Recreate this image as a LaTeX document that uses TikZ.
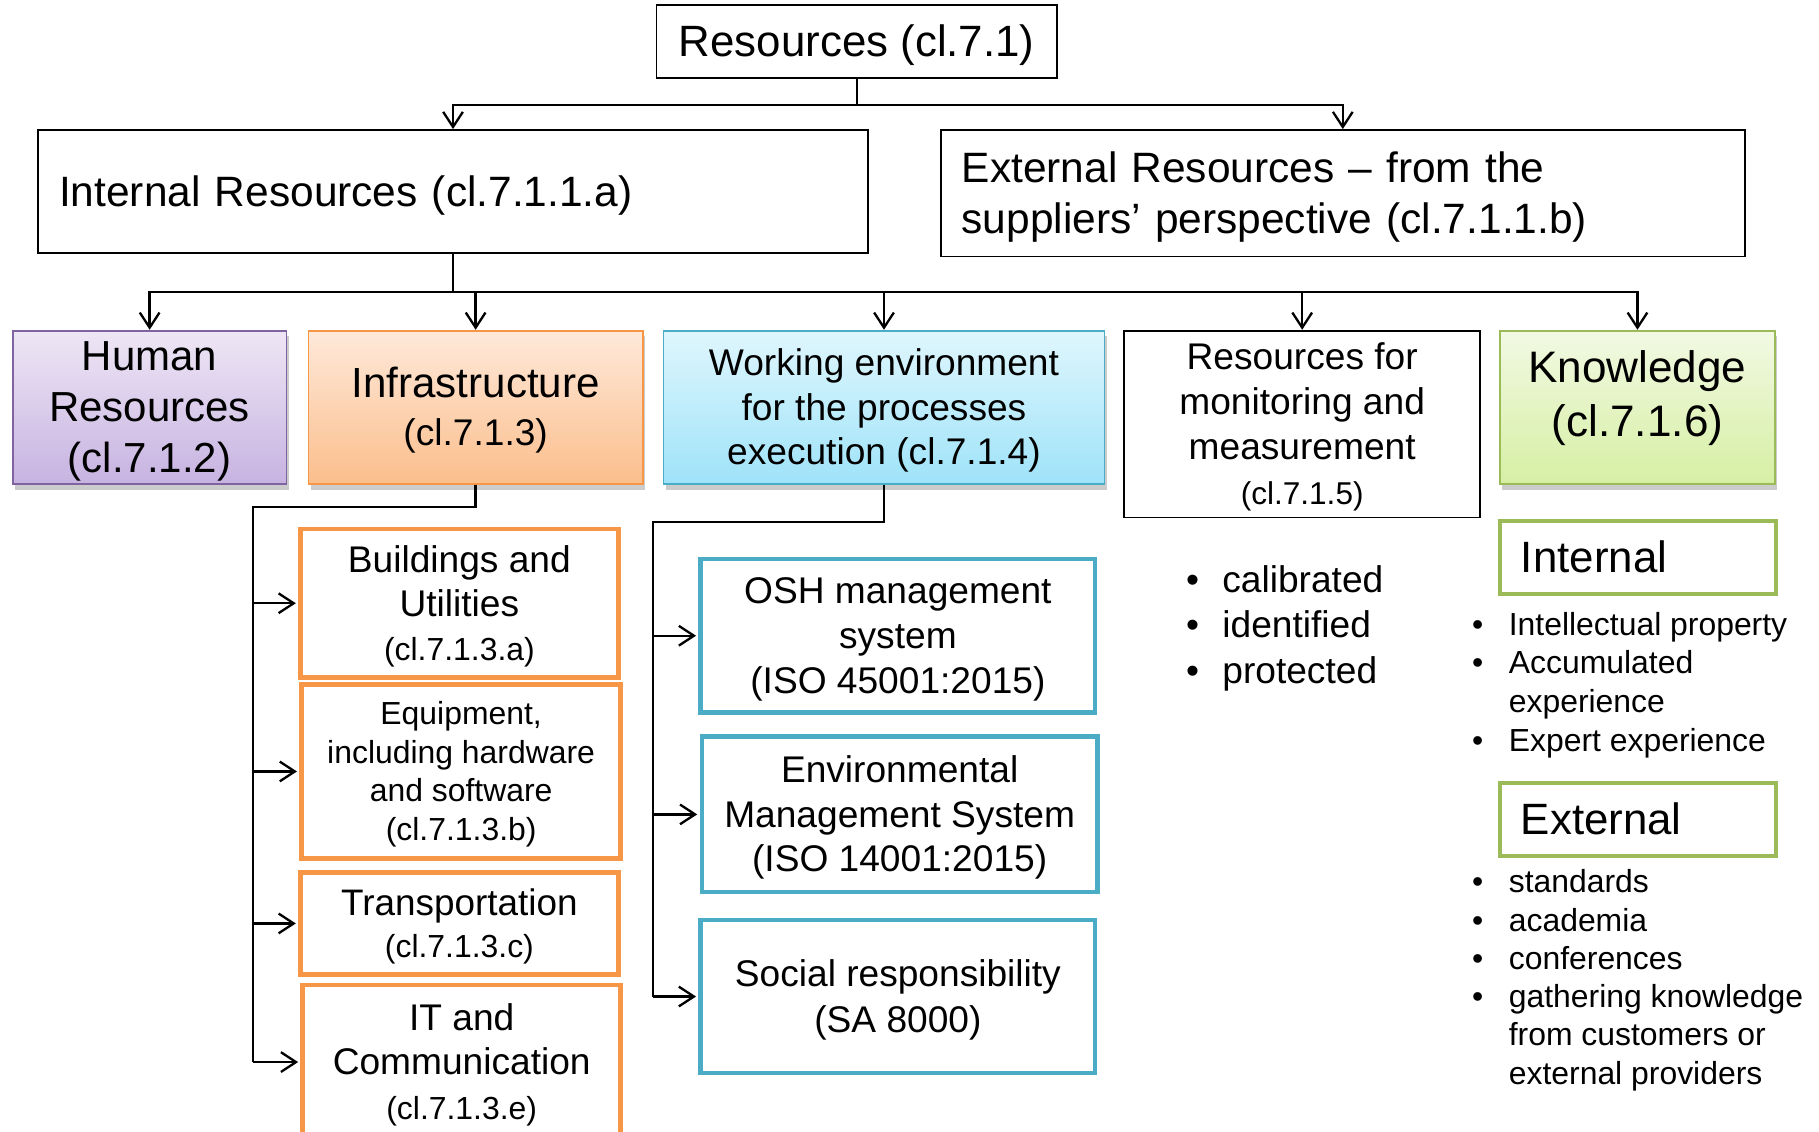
\documentclass[tikz,border=0pt]{standalone}
\usepackage{fontspec}
\setmainfont{Liberation Sans}
\usepackage{xcolor}
\usepackage{tikz}
\usetikzlibrary{positioning}
\usetikzlibrary{arrows.meta}
\usetikzlibrary{shadows}

\definecolor{hrline}{HTML}{8064A2}
\definecolor{hrtop}{HTML}{EEE6F5}
\definecolor{hrbot}{HTML}{C7B3E1}
\definecolor{infline}{HTML}{F79646}
\definecolor{inftop}{HTML}{FEE9DA}
\definecolor{infbot}{HTML}{FBBE8C}
\definecolor{wrkline}{HTML}{4BACC6}
\definecolor{wrktop}{HTML}{DFF6FD}
\definecolor{wrkbot}{HTML}{9FE3F9}
\definecolor{knwline}{HTML}{9BBB59}
\definecolor{knwtop}{HTML}{F2F9E3}
\definecolor{knwbot}{HTML}{D6EFA4}

\newcommand\fsz[2]{\fontsize{#1}{#2}\selectfont}
% strut with the ascent and descent of the font
\newcommand\pst{\rule[-.212em]{0pt}{1.117em}}

\tikzset{
  box/.style={draw,line width=1.5pt,align=center,inner sep=0pt,
    execute at begin node=\pst,execute at end node=\pst},
  colbox/.style={box,drop shadow={shadow xshift=2pt,shadow yshift=-5pt,fill=black!50,opacity=.4}},
  infsub/.style={box,draw=infline,line width=4pt,fill=white},
  wrksub/.style={box,draw=wrkline,line width=4pt,fill=white},
  knwsub/.style={box,draw=knwline,line width=4pt,fill=white,align=left,text width=202pt,
    minimum width=238pt,minimum height=63pt}
}

\begin{document}
\begin{tikzpicture}[x=1pt,y=-1pt,line width=2pt,>={Straight Barb[length=13pt,width=17pt]}]
\useasboundingbox (0,0) rectangle (1568,975);

% top levels
\node[box,minimum width=345pt,minimum height=63pt,font=\fsz{37.8}{44}] (res) at (738.5,35.5) {Resources (cl.7.1)};
\node[box,minimum width=715pt,minimum height=106pt,text width=679pt,align=left,font=\fsz{36.6}{44}] (int) at (390.5,165) {Internal Resources (cl.7.1.1.a)};
\node[box,minimum width=693pt,minimum height=109pt,text width=657pt,align=left,font=\fsz{36.6}{44}] (ext) at (1157.5,166.5) {External Resources -- from the\\suppliers’ perspective (cl.7.1.1.b)};

% internal resources
\node[colbox,draw=hrline,top color=hrtop,bottom color=hrbot,minimum width=236pt,minimum height=132pt,font=\fsz{36.2}{44}] (hr) at (129,351) {\pst Human\\Resources\\(cl.7.1.2)\pst};
\node[colbox,draw=infline,top color=inftop,bottom color=infbot,minimum width=288pt,minimum height=132pt,font=\fsz{36.3}{40}] (inf) at (410,351) {\pst Infrastructure\\{\fsz{32}{40}(cl.7.1.3)}\pst};
\node[colbox,draw=wrkline,top color=wrktop,bottom color=wrkbot,minimum width=380pt,minimum height=132pt,font=\fsz{32}{38.5}] (wrk) at (762,351) {\pst Working environment\\for the processes\\execution (cl.7.1.4)\pst};
\node[box,minimum width=307pt,minimum height=161pt,font=\fsz{32}{39}] (mon) at (1122.5,365.5) {\pst Resources for\\monitoring and\\measurement\\{\fsz{27.2}{36}(cl.7.1.5)\pst}};
\node[colbox,draw=knwline,top color=knwtop,bottom color=knwbot,minimum width=237pt,minimum height=132pt] (knw) at (1411.5,351) {};
\node[align=center,font=\fsz{38}{46},yshift=8pt] (knwtxt) at (knw) {Knowledge\\(cl.7.1.6)};

% infrastructure
\node[infsub,minimum width=274pt,minimum height=128pt,font=\fsz{32}{38}] (bld) at (396,520) {\pst Buildings and\\Utilities\\{\fsz{27.5}{35}(cl.7.1.3.a)\pst}};
\node[infsub,minimum width=275pt,minimum height=150pt,font=\fsz{27.5}{33.3}] (eqp) at (397.5,665) {\pst Equipment,\\including hardware\\and software\\(cl.7.1.3.b)\pst};
\node[infsub,minimum width=274pt,minimum height=88pt,font=\fsz{31.8}{36}] (trn) at (396,796) {\pst Transportation\\{\fsz{27.5}{36}(cl.7.1.3.c)\pst}};
\node[infsub,minimum width=274pt,minimum height=133pt,font=\fsz{32}{38}] (itc) at (398,915.5) {\pst IT and\\Communication\\{\fsz{27.5}{35}(cl.7.1.3.e)\pst}};

% working environment
\node[wrksub,minimum width=340pt,minimum height=132pt,font=\fsz{32}{38.5}] (osh) at (774,548) {\pst OSH management\\system\\(ISO 45001:2015)\pst};
\node[wrksub,minimum width=341pt,minimum height=134pt,font=\fsz{32}{38.5}] (env) at (775.5,702) {\pst Environmental\\Management System\\(ISO 14001:2015)\pst};
\node[wrksub,minimum width=340pt,minimum height=132pt,font=\fsz{32}{39}] (soc) at (774,859) {\pst Social responsibility\\(SA 8000)\pst};

% monitoring
\node[anchor=west,inner sep=0pt,font=\fsz{32}{39}] (monlist) at (1021.5,542) {\begin{tabular}{@{}l@{\hspace{20pt}}l@{}}
\textbullet & calibrated\\ \textbullet & identified\\ \textbullet & protected\end{tabular}};

% knowledge
\node[knwsub,font=\fsz{37.8}{44}] (kint) at (1412,480.5) {Internal};
\node[anchor=west,inner sep=0pt,font=\fsz{27.5}{33.5}] (kintlist) at (1268,591) {\begin{tabular}{@{}l@{\hspace{22pt}}l@{}}
\textbullet & Intellectual property\\ \textbullet & Accumulated\\ & experience\\ \textbullet & Expert experience\end{tabular}};
\node[knwsub,font=\fsz{37.8}{44}] (kext) at (1412,706.5) {External};
\node[anchor=west,inner sep=0pt,font=\fsz{27.5}{33}] (kextlist) at (1268,845.5) {\begin{tabular}{@{}l@{\hspace{22pt}}l@{}}
\textbullet & standards\\ \textbullet & academia\\ \textbullet & conferences\\ \textbullet & gathering knowledge\\ & from customers or\\ & external providers\end{tabular}};

% connectors
\draw[->] (res.south) -- ++(0,23) -| (int.north);
\draw[->] (res.south) -- ++(0,23) -| (ext.north);
\foreach \t in {hr,inf,wrk,mon,knw}
  \draw[->] (int.south) -- ++(0,33) -| (\t.north);

\coordinate (ibus) at (218,437);
\draw (inf.south) |- (ibus) -- (ibus |- itc.west);
\foreach \t in {bld,eqp,trn,itc}
  \draw[->,shorten >=2pt] (ibus |- \t.west) -- (\t.west);

\coordinate (wbus) at (563,450);
\draw (wrk.south) |- (wbus) -- (wbus |- soc.west);
\foreach \t in {osh,env,soc}
  \draw[->,shorten >=2pt] (wbus |- \t.west) -- (\t.west);
\end{tikzpicture}
\end{document}
